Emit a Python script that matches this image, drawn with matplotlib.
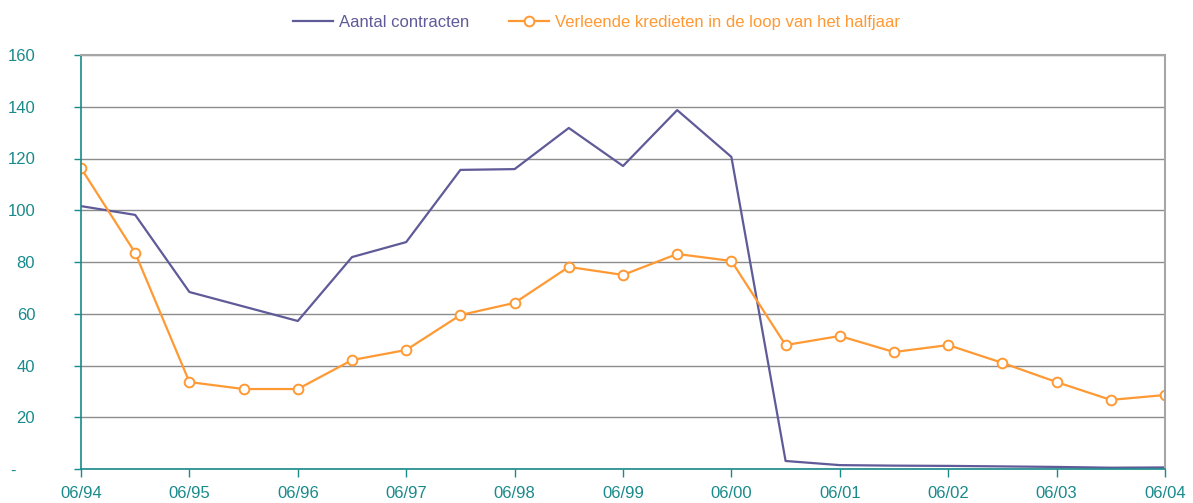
import numpy as np
import matplotlib.pyplot as plt

plt.rcParams['font.family'] = ['Liberation Sans', 'DejaVu Sans']

# half-yearly periods, 06/94 .. 06/04
periods = ['06/94', '12/94', '06/95', '12/95', '06/96', '12/96', '06/97', '12/97',
           '06/98', '12/98', '06/99', '12/99', '06/00', '12/00', '06/01', '12/01',
           '06/02', '12/02', '06/03', '12/03', '06/04']
contracten = [101.6, 98.2, 68.4, 62.8, 57.2, 81.9, 87.7, 115.6, 115.9, 131.8, 117.1,
              138.7, 120.6, 3.1, 1.5, 1.3, 1.2, 1.0, 0.8, 0.5, 0.6]
kredieten = [116.3, 83.5, 33.6, 30.9, 30.9, 42.1, 46.0, 59.5, 64.2, 78.1, 75.0,
             83.1, 80.4, 47.9, 51.4, 45.2, 47.9, 41.0, 33.6, 26.7, 28.6]
yticks = [0, 20, 40, 60, 80, 100, 120, 140, 160]
ylabels = ['-    ', '20', '40', '60', '80', '100', '120', '140', '160']

purple = '#5F5A98'
orange = '#FF9933'
teal = '#1A8A8A'

fig = plt.figure(figsize=(11.93, 5.03), dpi=100)
ax = fig.add_axes([81/1193, 1 - 469/503, (1165 - 81)/1193, (469 - 55)/503])

x = np.arange(len(periods))
ax.plot(x, contracten, color=purple, lw=1.6, label='Aantal contracten')
ax.plot(x, kredieten, color=orange, lw=1.6, marker='o', ms=7, mfc='white',
        mec=orange, mew=1.4, label='Verleende kredieten in de loop van het halfjaar')

ax.set_xlim(0, len(periods) - 1)
ax.set_ylim(0, 160)
ax.set_xticks(x[::2])
ax.set_xticklabels(periods[::2])
ax.set_yticks(yticks)
ax.set_yticklabels(ylabels)

ax.grid(axis='y', color='#8c8c8c', lw=1)
ax.set_axisbelow(True)
for s in ['top', 'right']:
    ax.spines[s].set_color('#a6a6a6')
    ax.spines[s].set_linewidth(1.5)
for s in ['left', 'bottom']:
    ax.spines[s].set_color(teal)
    ax.spines[s].set_linewidth(1.2)

ax.tick_params(axis='x', colors=teal, labelsize=12, length=6, width=1, pad=6, direction='out')
ax.tick_params(axis='y', colors=teal, labelsize=12, length=5, width=1, pad=28, direction='out')

leg = fig.legend(loc='upper center', bbox_to_anchor=(0.5, 1.0), ncol=2, frameon=False,
                 fontsize=12, handlelength=2.4, handletextpad=0.35, columnspacing=2.4)
for txt, c in zip(leg.get_texts(), [purple, orange]):
    txt.set_color(c)

fig.savefig('out.png', dpi=100)
